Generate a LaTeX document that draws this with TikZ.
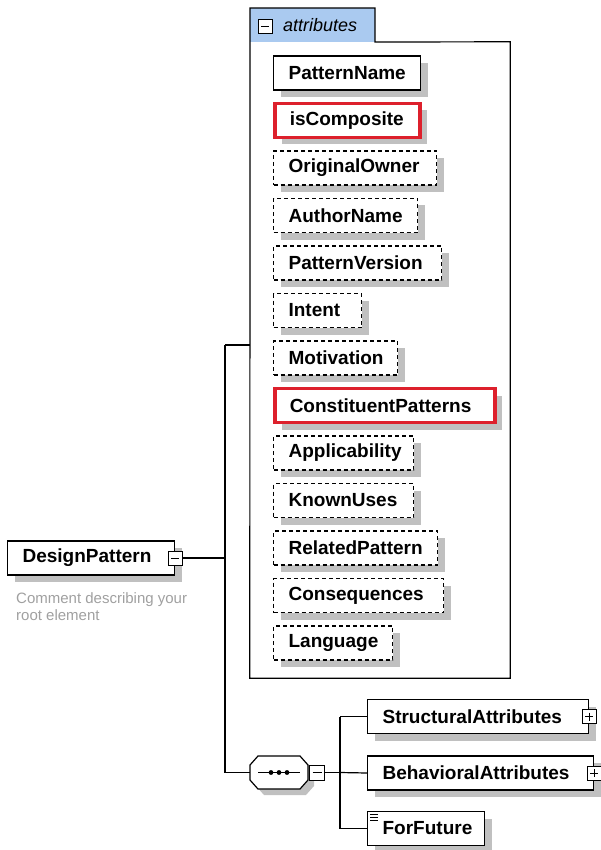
\documentclass[tikz,border=0pt]{standalone}
\usepackage{fontspec}
\setmainfont{Liberation Sans}
\usetikzlibrary{shadows}
\definecolor{shadowgray}{RGB}{192,192,192}
\definecolor{tabblue}{RGB}{170,202,240}
\definecolor{hlred}{RGB}{221,32,44}
\definecolor{cmtgray}{RGB}{160,160,160}
\begin{document}
\begin{tikzpicture}[x=1pt,y=-1pt,
 elem/.style={draw, line width=1.2pt, fill=white, font=\fontsize{19}{21}\selectfont\bfseries, minimum height=34pt, inner ysep=0pt, inner xsep=15pt, align=left, anchor=west, drop shadow={shadow xshift=7pt, shadow yshift=-7pt, opacity=1, fill=shadowgray, draw=none}},
 opt/.style={elem, dash pattern=on 4pt off 3pt},
 hl/.style={elem, draw=hlred, line width=3.5pt},
 ctrl/.style={draw, line width=1pt, fill=white, minimum size=14pt, inner sep=0pt},
 minus/.style={ctrl, path picture={\draw[line width=1pt] ([xshift=3pt]path picture bounding box.west) -- ([xshift=-3pt]path picture bounding box.east);}},
 plus/.style={ctrl, path picture={\draw[line width=1pt] ([xshift=3pt]path picture bounding box.west) -- ([xshift=-3pt]path picture bounding box.east) ([yshift=-3pt]path picture bounding box.north) -- ([yshift=3pt]path picture bounding box.south);}},
 conn/.style={line width=1.2pt},
 cmt/.style={text=cmtgray, font=\fontsize{15}{17}\selectfont, inner sep=0pt, anchor=base west}
]
\useasboundingbox (0,0) rectangle (601,850);

% attributes container
\node[minimum width=260pt, minimum height=636pt, inner sep=0pt] (attrs) at (380,360) {};
\fill[tabblue] (250,8) rectangle (375,42);
\draw[line width=1.2pt] (attrs.south west) -- (250,8) -- (375,8) -- (375,42) -- (attrs.north east) -- (attrs.south east) -- cycle;
\node[minus] (tabm) at (265,26.5) {};
\node[font=\fontsize{18}{20}\selectfont\itshape, inner sep=0pt, anchor=base west] (tabt) at (283,32) {attributes};

% attribute elements (text width = box width - 30)
\node[elem, text width=117pt] (a0) at (273,73) {PatternName};
\node[hl,   text width=115pt] (a1) at (273,120.5) {isComposite};
\node[opt,  text width=133pt] (a2) at (273,168) {OriginalOwner};
\node[opt,  text width=114pt] (a3) at (273,215.5) {AuthorName};
\node[opt,  text width=138pt] (a4) at (273,263) {PatternVersion};
\node[opt,  text width=58pt]  (a5) at (273,310.5) {Intent};
\node[opt,  text width=94pt] (a6) at (273,358) {Motivation};
\node[hl,   text width=190pt] (a7) at (273,405.5) {ConstituentPatterns};
\node[opt,  text width=110pt] (a8) at (273,453) {Applicability};
\node[opt,  text width=110pt] (a9) at (273,500.5) {KnownUses};
\node[opt,  text width=134pt] (a10) at (273,548) {RelatedPattern};
\node[opt,  text width=140pt] (a11) at (273,595.5) {Consequences};
\node[opt,  text width=89pt] (a12) at (273,643) {Language};

% root element
\node[elem, text width=137pt] (dp) at (7,558) {DesignPattern};
\node[minus] (dpm) at (175,558) {};
\node[cmt] (cmt1) at (16,603) {Comment describing your};
\node[cmt] (cmt2) at (16,620) {root element};

% junction
\coordinate (j0) at (225,558);
\coordinate (jtop) at (225,345);
\coordinate (jbot) at (225,772.5);
\draw[conn] (dpm.east) -- (j0);
\draw[conn] (jtop) -- (jbot);
\draw[conn] (jtop) -- (jtop -| attrs.west);

% sequence compositor
\node[minimum width=58pt, minimum height=33pt, inner sep=0pt] (seq) at (279,772.5) {};
\begin{scope}[shift={(seq.center)}]
\fill[shadowgray] (-23,-1.5) -- (-15,-10.5) -- (27,-10.5) -- (35,-1.5) -- (35,13.5) -- (27,22.5) -- (-15,22.5) -- (-23,13.5) -- cycle;
\draw[line width=1.2pt, fill=white] (-29,-7.5) -- (-21,-16.5) -- (21,-16.5) -- (29,-7.5) -- (29,7.5) -- (21,16.5) -- (-21,16.5) -- (-29,7.5) -- cycle;
\draw[line width=1.2pt] (-21,0) -- (21,0);
\fill (-8,0) circle (2.4pt) (0,0) circle (2.4pt) (8,0) circle (2.4pt);
\end{scope}
\draw[conn] (jbot) -- (seq.west);
\node[minus, minimum size=15pt] (seqm) at (317,772.5) {};
\coordinate (k0) at (340,772.5);
\coordinate (ktop) at (340,716.5);
\coordinate (kbot) at (340,828.5);
\draw[conn] (seqm.east) -- (k0);
\draw[conn] (ktop) -- (kbot);

% children
\node[elem, text width=191pt] (sa) at (367,716.5) {StructuralAttributes};
\node[plus] (sap) at (sa.east) {};
\node[elem, text width=196pt] (ba) at (367,773) {BehavioralAttributes};
\node[plus] (bap) at (ba.east) {};
\node[elem, text width=87pt] (ff) at (367,828.5) {ForFuture};
\draw[line width=0.8pt] ([xshift=3pt,yshift=-3pt]ff.north west) -- ++(8,0)
  ([xshift=3pt,yshift=-6pt]ff.north west) -- ++(8,0)
  ([xshift=3pt,yshift=-9pt]ff.north west) -- ++(8,0);

\draw[conn] (ktop) -- (sa.west);
\draw[conn] (k0) -- (ba.west);
\draw[conn] (kbot) -- (ff.west);
\end{tikzpicture}
\end{document}
